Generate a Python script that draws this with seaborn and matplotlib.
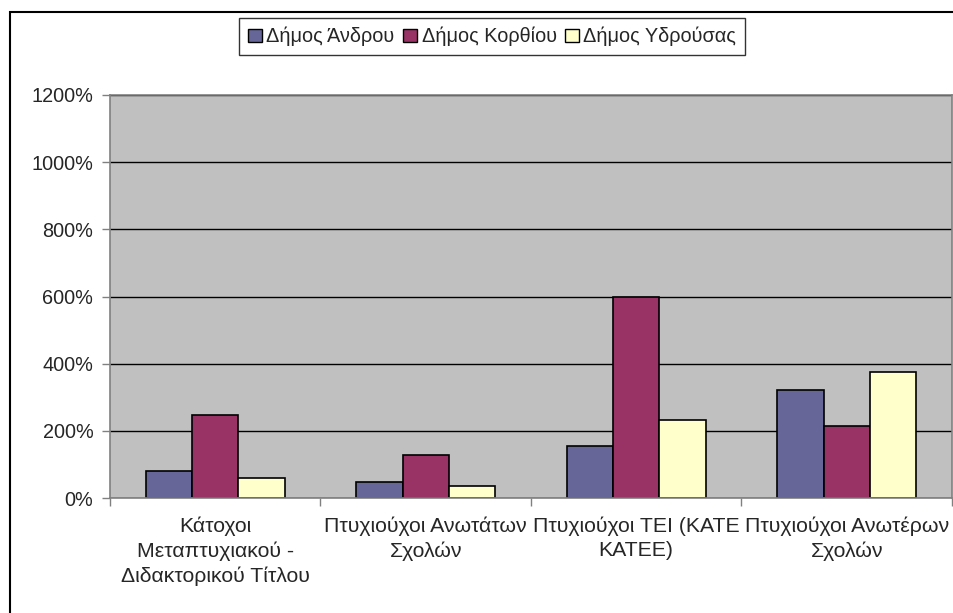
import pandas as pd
import matplotlib.pyplot as plt
import seaborn as sns
from matplotlib.patches import Rectangle, Patch
from matplotlib.ticker import FixedLocator, FuncFormatter

# data
categories = ['Κάτοχοι\nΜεταπτυχιακού -\nΔιδακτορικού Τίτλου',
              'Πτυχιούχοι Ανωτάτων\nΣχολών',
              'Πτυχιούχοι ΤΕΙ (ΚΑΤΕ\nΚΑΤΕΕ)',
              'Πτυχιούχοι Ανωτέρων\nΣχολών']
series = ['Δήμος Άνδρου', 'Δήμος Κορθίου', 'Δήμος Υδρούσας']
andros = [79, 48, 156, 323]
korthi = [247, 128, 600, 213]
ydrousa = [60, 37, 232, 374]
colors = ['#666699', '#993366', '#FFFFCC']

rows = []
for name, vals in zip(series, [andros, korthi, ydrousa]):
    for cat, v in zip(categories, vals):
        rows.append({'cat': cat, 'series': name, 'value': v})
df = pd.DataFrame(rows)

sns.set_style('white')
plt.rcParams['font.family'] = ['Liberation Sans', 'DejaVu Sans']

W, H = 954, 613
fig = plt.figure(figsize=(W / 100, H / 100), dpi=100)
ax = fig.add_axes([110 / W, 1 - 498 / H, (952 - 110) / W, (498 - 95) / H])

sns.barplot(data=df, x='cat', y='value', hue='series', palette=colors,
            width=0.66, edgecolor='black', linewidth=1.2, ax=ax,
            legend=False, saturation=1)

ax.set_facecolor('#C0C0C0')
ax.set_ylim(0, 1200)
ax.set_xlim(-0.5, 3.5)
ax.set_yticks(range(0, 1201, 200))
ax.yaxis.set_major_formatter(FuncFormatter(lambda v, p: f'{int(v)}%'))
ax.grid(axis='y', color='black', linewidth=1)
ax.set_axisbelow(True)
ax.set_xlabel('')
ax.set_ylabel('')

for side in ['top', 'right', 'left', 'bottom']:
    ax.spines[side].set_color('#808080')
    ax.spines[side].set_linewidth(1.2)

ax.tick_params(axis='y', direction='out', length=6, width=1, color='#808080',
               labelsize=14.3, pad=6, left=True)
ax.tick_params(axis='x', which='major', length=0, labelsize=15.3, pad=13)
ax.xaxis.set_minor_locator(FixedLocator([-0.5, 0.5, 1.5, 2.5, 3.5]))
ax.tick_params(axis='x', which='minor', direction='out', length=6, width=1,
               color='#808080', bottom=True)
for lbl in ax.get_xticklabels():
    lbl.set_linespacing(1.38)

handles = [Patch(facecolor=c, edgecolor='black', linewidth=1) for c in colors]
leg = fig.legend(handles, series, loc='upper center',
                 bbox_to_anchor=(492 / W, 1 - 18 / H), ncol=3, fontsize=14.3,
                 frameon=True, fancybox=False, edgecolor='black',
                 handlelength=0.7, handleheight=0.7, handletextpad=0.25,
                 columnspacing=0.4, borderpad=0.45, borderaxespad=0)
leg.get_frame().set_linewidth(1)

# outer chart border
fig.patches.append(Rectangle((10 / W, -0.05), 1.1, 1 - 12 / H + 0.05,
                             transform=fig.transFigure, fill=False,
                             edgecolor='black', linewidth=1.5))

fig.savefig('out.png', dpi=100)
